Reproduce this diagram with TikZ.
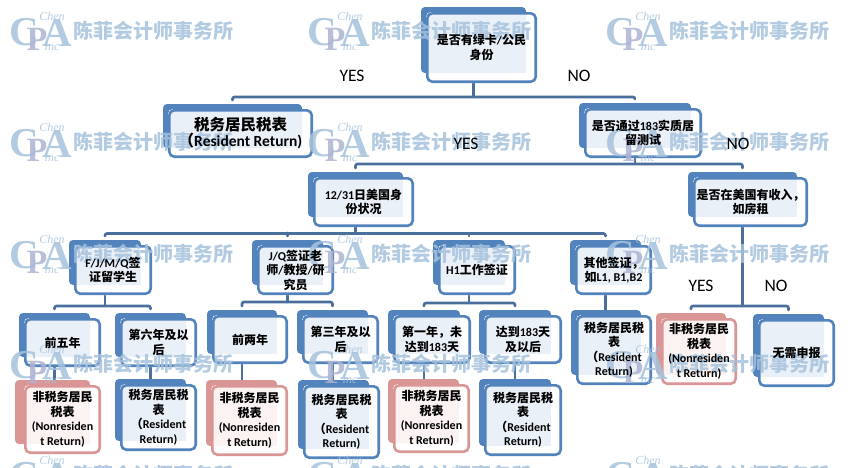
\documentclass[tikz,border=0pt]{standalone}
\usepackage{fontspec}
\setmainfont{Carlito}
\newfontfamily\cjkfont{Noto Sans CJK SC}
\newfontfamily\logofont{Liberation Serif}
\usetikzlibrary{positioning,calc,backgrounds}
\definecolor{cpablue}{HTML}{5283BD}
\definecolor{cpapink}{HTML}{D99694}
\definecolor{cpaline}{HTML}{4A6F9C}
\definecolor{markblue}{HTML}{A6C2DC}
\definecolor{markgrey}{HTML}{AEB4D2}
\pgfdeclarelayer{conns}
\pgfdeclarelayer{boxes}
\pgfdeclarelayer{marks}
\pgfsetlayers{conns,boxes,marks,main}
\tikzset{
  boxtext/.style={align=center,inner sep=0pt,text=black,font=\fontsize{12}{14.5}\selectfont\cjkfont\bfseries},
  conn/.style={draw=cpaline,line width=2.6pt,rounded corners=2pt,line cap=round},
  answer/.style={inner sep=0pt,font=\fontsize{17.5}{20}\selectfont},
  marktext/.style={inner sep=0pt,anchor=west,text=markblue,font=\fontsize{20}{22}\selectfont\cjkfont\bfseries},
  markbig/.style={inner sep=0pt,font=\fontsize{41}{41}\selectfont\logofont\bfseries},
  marksmall/.style={inner sep=0pt,text=markblue,font=\fontsize{12}{12}\selectfont\logofont\itshape},
}
\newcommand{\la}[1]{{\normalfont\bfseries #1}}
\newcommand{\ret}[1]{{\fontsize{12}{14.5}\selectfont\normalfont\bfseries #1}}
% box: [back offset]{name}{x1}{y1}{x2}{y2}{colour}{text}
\newcommand{\cpabox}[8][5]{
  \begin{pgfonlayer}{boxes}
    \fill[#7,rounded corners=4pt] (#3-#1,#4-5) rectangle (#5-11,#6-10);
    \fill[white,rounded corners=5pt] (#3,#4) rectangle (#5,#6);
    \fill[#7!12] (#3+1,#4+1) rectangle (#5-11,#6-10);
    \draw[#7,line width=2.6pt,rounded corners=5pt] (#3+1.3,#4+1.3) rectangle (#5-1.3,#6-1.3);
  \end{pgfonlayer}
  \node[boxtext,minimum width={(#5-#3)*1pt},minimum height={(#6-#4)*1pt}] (#2) at ({(#3+#5)/2},{(#4+#6)/2}) {#8};
  \coordinate (#2top) at ({(#3+#5)/2-8},#4-9);
  \coordinate (#2drop) at ({(#3+#5)/2-8},#6);
}
\begin{document}
\begin{tikzpicture}[x=1pt,y=-1pt]
  \useasboundingbox (0,0) rectangle (851,467);
  % question boxes
  \cpabox{q}{426}{12}{537}{83}{cpablue}{是否有绿卡\la{/}公民\\身份}
  \cpabox{r}{168}{109}{313}{158}{cpablue}{\fontsize{15.5}{19}\selectfont 税务居民税表\\{\fontsize{15.5}{19}\selectfont （\la{Resident Return)}}}
  \cpabox{t}{584}{108}{702}{158}{cpablue}{是否通过\ret{183}实质居\\留测试}
  \cpabox{s}{313}{177}{414}{227}{cpablue}{\la{12/31}日美国身\\份状况}
  \cpabox{u}{693}{177}{808}{227}{cpablue}{是否在美国有收入，\\如房租}
  % visa types
  \cpabox{vf}{74}{245}{152}{295}{cpablue}{\la{F/J/M/Q}签\\证留学生}
  \cpabox{vj}{257}{245}{334}{295}{cpablue}{\la{J/Q}签证老\\师\la{/}教授\la{/}研\\究员}
  \cpabox{vh}{438}{245}{516}{295}{cpablue}{\la{H1}工作签证}
  \cpabox{vo}{575}{245}{652}{295}{cpablue}{其他签证，\\如\ret{L1, B1,B2}}
  % years
  \cpabox{wa}{24}{318}{101}{367}{cpablue}{前五年}
  \cpabox{wb}{120}{318}{197}{367}{cpablue}{第六年及以\\后}
  \cpabox{wc}{212}{315}{288}{364}{cpablue}{前两年}
  \cpabox{wd}{302}{315}{379}{364}{cpablue}{第三年及以\\后}
  \cpabox{we}{393}{315}{471}{364}{cpablue}{第一年，未\\达到\ret{183}天}
  \cpabox{wf}{484}{315}{562}{364}{cpablue}{达到\ret{183}天\\及以后}
  % results
  \cpabox[9]{pa}{24}{385}{101}{454}{cpapink}{非税务居民\\税表\\\ret{(Nonresiden}\\\ret{t Return)}}
  \cpabox{ba}{120}{384}{197}{451}{cpablue}{税务居民税\\表\\（\ret{Resident}\\\ret{Return)}}
  \cpabox{pb}{211}{385}{288}{456}{cpapink}{非税务居民\\税表\\\ret{(Nonresiden}\\\ret{t Return)}}
  \cpabox{bb}{303}{385}{380}{459}{cpablue}{税务居民税\\表\\（\ret{Resident}\\\ret{Return)}}
  \cpabox{pc}{393}{384}{470}{453}{cpapink}{非税务居民\\税表\\\ret{(Nonresiden}\\\ret{t Return)}}
  \cpabox{bc}{484}{384}{562}{456}{cpablue}{税务居民税\\表\\（\ret{Resident}\\\ret{Return)}}
  \cpabox{bd}{576}{315}{652}{385}{cpablue}{税务居民税\\表\\（\ret{Resident}\\\ret{Return)}}
  \cpabox{pd}{661}{318}{737}{385}{cpapink}{非税务居民\\税表\\\ret{(Nonresiden}\\\ret{t Return)}}
  \cpabox{nn}{758}{319}{835}{387}{cpablue}{无需申报}
  % connectors
  \begin{pgfonlayer}{conns}
    \draw[conn] (qdrop) -- ++(0,14) coordinate (qbus);
    \draw[conn] (rtop) |- (qbus) -| (ttop);
    \draw[conn] (tdrop) -- ++(0,6) coordinate (tbus);
    \draw[conn] (stop) |- (tbus) -| (utop);
    \draw[conn] (sdrop) -- ++(0,6.5) coordinate (sbus);
    \draw[conn] (vftop) |- (sbus) -| (votop);
    \draw[conn] (vjtop) -- ++(0,-3);
    \draw[conn] (vhtop) -- ++(0,-3);
    \draw[conn] (udrop) -- ++(0,79) coordinate (ubus);
    \draw[conn] (pdtop) |- (ubus) -| (nntop);
    \draw[conn] (vfdrop) -- ++(0,11) coordinate (vfbus);
    \draw[conn] (watop) |- (vfbus) -| (wbtop);
    \draw[conn] (vjdrop) -- ++(0,7) coordinate (vjbus);
    \draw[conn] (wctop) |- (vjbus) -| (wdtop);
    \draw[conn] (vhdrop) -- ++(0,8) coordinate (vhbus);
    \draw[conn] (wetop) |- (vhbus) -| (wftop);
    \draw[conn] (vodrop) -- (vodrop |- bd.north);
    \foreach \from/\to in {wa/pa,wb/ba,wc/pb,wd/bb,we/pc,wf/bc}
      \draw[conn] (\from drop) -- (\from drop |- \to.north);
  \end{pgfonlayer}
  % yes and no
  \node[answer] (ansa) at (352,76) {YES};
  \node[answer] (ansb) at (579,76) {NO};
  \node[answer] (ansc) at (466,144) {YES};
  \node[answer] (ansd) at (738,144) {NO};
  \node[answer] (anse) at (701,286) {YES};
  \node[answer] (ansf) at (776,286) {NO};
  % watermark
  \begin{pgfonlayer}{marks}
    \begin{scope}[opacity=0.85]
    \foreach \wx in {10,308,606}{
      \foreach \wy in {31,142,254,364,475}{
        \node[marktext] (name\wx-\wy) at (\wx+63,\wy) {陈菲会计师事务所};
        \node[markbig,text=markblue] (logc\wx-\wy) at (\wx+14,\wy+1) {C};
        \node[markbig,text=markblue] (loga\wx-\wy) at (\wx+47,\wy+2) {A};
        \node[markbig,text=markgrey,font=\fontsize{34}{34}\selectfont\logofont\bfseries] (logp\wx-\wy) at (\wx+27,\wy+8) {P};
        \node[marksmall] (logt\wx-\wy) at (\wx+42,\wy-15) {Chen};
        \node[marksmall] (logi\wx-\wy) at (\wx+42,\wy+16) {inc};
      }
    }
    \end{scope}
  \end{pgfonlayer}
\end{tikzpicture}
\end{document}
